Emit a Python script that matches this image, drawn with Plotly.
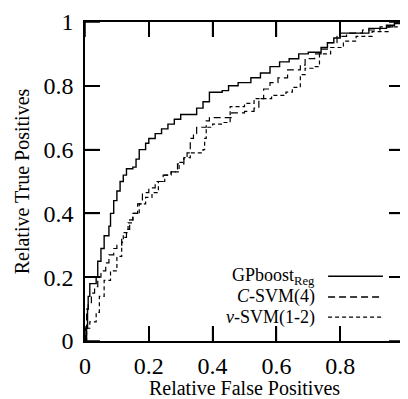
import plotly.graph_objects as go

# GPboost_Reg (solid)
gp_x = [0, 0.005, 0.008, 0.01, 0.015, 0.035, 0.04, 0.05, 0.06, 0.075, 0.08, 0.09, 0.1, 0.11, 0.12, 0.13,
        0.15, 0.16, 0.17, 0.19, 0.2, 0.22, 0.24, 0.26, 0.28, 0.3, 0.33, 0.35, 0.37, 0.39, 0.43, 0.45, 0.48,
        0.52, 0.55, 0.58, 0.61, 0.64, 0.67, 0.7, 0.74, 0.76, 0.78, 0.8, 0.86, 0.89, 0.945, 0.97, 1.0]
gp_y = [0, 0.04, 0.1, 0.14, 0.18, 0.2, 0.25, 0.29, 0.33, 0.36, 0.4, 0.44, 0.47, 0.5, 0.52, 0.54,
        0.545, 0.57, 0.6, 0.62, 0.635, 0.65, 0.665, 0.68, 0.695, 0.71, 0.71, 0.73, 0.75, 0.78, 0.785, 0.8, 0.81,
        0.825, 0.84, 0.86, 0.875, 0.885, 0.9, 0.905, 0.92, 0.935, 0.95, 0.965, 0.965, 0.98, 0.99, 0.997, 1.0]

# C-SVM(4) (long dash)
c_x = [0, 0.002, 0.005, 0.01, 0.02, 0.03, 0.04, 0.05, 0.065, 0.075, 0.09, 0.1, 0.115, 0.13, 0.14, 0.15,
       0.165, 0.18, 0.2, 0.22, 0.245, 0.27, 0.29, 0.31, 0.32, 0.33, 0.34, 0.35, 0.38, 0.39, 0.43, 0.46, 0.5,
       0.53, 0.545, 0.56, 0.58, 0.605, 0.635, 0.675, 0.69, 0.72, 0.74, 0.76, 0.79, 0.82, 0.87, 0.925, 0.965, 1.0]
c_y = [0, 0.04, 0.1, 0.12, 0.15, 0.17, 0.2, 0.22, 0.245, 0.27, 0.29, 0.3, 0.325, 0.35, 0.38, 0.4,
       0.43, 0.465, 0.48, 0.5, 0.52, 0.53, 0.555, 0.575, 0.59, 0.635, 0.65, 0.67, 0.69, 0.7, 0.7, 0.715, 0.72,
       0.73, 0.76, 0.79, 0.81, 0.825, 0.85, 0.865, 0.885, 0.9, 0.915, 0.935, 0.955, 0.965, 0.975, 0.985, 0.995, 1.0]

# nu-SVM(1-2) (short dash)
n_x = [0, 0.005, 0.015, 0.035, 0.045, 0.06, 0.08, 0.1, 0.115, 0.12, 0.135, 0.15, 0.17, 0.19, 0.21, 0.23,
       0.25, 0.27, 0.295, 0.31, 0.33, 0.37, 0.375, 0.38, 0.4, 0.43, 0.455, 0.5, 0.53, 0.55, 0.585, 0.63,
       0.65, 0.675, 0.69, 0.715, 0.735, 0.77, 0.81, 0.85, 0.9, 0.95, 1.0]
n_y = [0, 0.04, 0.06, 0.09, 0.14, 0.19, 0.22, 0.265, 0.31, 0.34, 0.37, 0.4, 0.43, 0.45, 0.465, 0.5,
       0.52, 0.53, 0.56, 0.575, 0.59, 0.6, 0.635, 0.67, 0.68, 0.685, 0.735, 0.745, 0.76, 0.76, 0.77, 0.78,
       0.795, 0.835, 0.855, 0.86, 0.9, 0.92, 0.94, 0.955, 0.97, 0.985, 1.0]

tick_vals = [0, 0.2, 0.4, 0.6, 0.8, 1]
tick_text = ["0", "0.2", "0.4", "0.6", "0.8", "1"]

FONT = "Liberation Serif"
fig = go.Figure()
fig.add_trace(go.Scatter(x=gp_x, y=gp_y, mode="lines", line_shape="hv",
                         line=dict(color="black", width=1.4), showlegend=False))
fig.add_trace(go.Scatter(x=c_x, y=c_y, mode="lines", line_shape="hv",
                         line=dict(color="black", width=1.2, dash="7px,4px"), showlegend=False))
fig.add_trace(go.Scatter(x=n_x, y=n_y, mode="lines", line_shape="hv",
                         line=dict(color="black", width=1.2, dash="4px,3px"), showlegend=False))

fig.update_layout(template="none")
fig.update_xaxes(range=[0, 1], tickmode="array", tickvals=tick_vals, ticktext=tick_text,
                 ticks="inside", ticklen=15, tickwidth=1.5, tickcolor="black",
                 showline=True, linecolor="black", linewidth=1.5, mirror="allticks",
                 showgrid=False, zeroline=False, automargin=False, ticklabeloverflow="allow",
                 tickfont=dict(family=FONT, size=24, color="black"), ticklabelstandoff=2,
                 title=dict(text="Relative False Positives", font=dict(family=FONT, size=20, color="black"),
                            standoff=2))
fig.update_yaxes(range=[0, 1], tickmode="array", tickvals=tick_vals, ticktext=tick_text,
                 ticks="inside", ticklen=15, tickwidth=1.5, tickcolor="black",
                 showline=True, linecolor="black", linewidth=1.5, mirror="allticks",
                 showgrid=False, zeroline=False, automargin=False,
                 tickfont=dict(family=FONT, size=24, color="black"), ticklabelstandoff=5,
                 title=dict(text="Relative True Positives", font=dict(family=FONT, size=20, color="black"),
                            standoff=8))

# inner tick marks on all four sides, placed at the tick values through the axes
TL = 15 / 319
tick_line = dict(color="black", width=1.5)
for v in tick_vals:
    fig.add_shape(type="line", xref="x", yref="y domain", x0=v, x1=v, y0=0, y1=TL, line=tick_line, layer="above")
    fig.add_shape(type="line", xref="x", yref="y domain", x0=v, x1=v, y0=1 - TL, y1=1, line=tick_line, layer="above")
    fig.add_shape(type="line", xref="x domain", yref="y", x0=0, x1=TL, y0=v, y1=v, line=tick_line, layer="above")
    fig.add_shape(type="line", xref="x domain", yref="y", x0=1 - TL, x1=1, y0=v, y1=v, line=tick_line, layer="above")

legend_labels = ["GPboost<sub>Reg</sub>", "<i>C</i>-SVM(4)", "<i>ν</i>-SVM(1-2)"]
legend_dash = ["solid", "7px,4px", "4px,3px"]
legend_y = [0.203, 0.138, 0.075]
for lab, d, yy in zip(legend_labels, legend_dash, legend_y):
    fig.add_annotation(xref="paper", yref="paper", x=0.727, y=yy, text=lab, showarrow=False,
                       xanchor="right", yanchor="middle", font=dict(family=FONT, size=18, color="black"))
    fig.add_shape(type="line", xref="paper", yref="paper", x0=0.762, x1=0.934, y0=yy, y1=yy,
                  line=dict(color="black", width=1.3, dash=d))

# page body has an 8px margin; shrink the figure so plot area lands where the reference has it
fig.update_layout(width=400, height=391, margin=dict(l=77, r=4, t=14, b=58),
                  paper_bgcolor="white", plot_bgcolor="white", font=dict(family=FONT, color="black"))
fig.write_html("out.html")
